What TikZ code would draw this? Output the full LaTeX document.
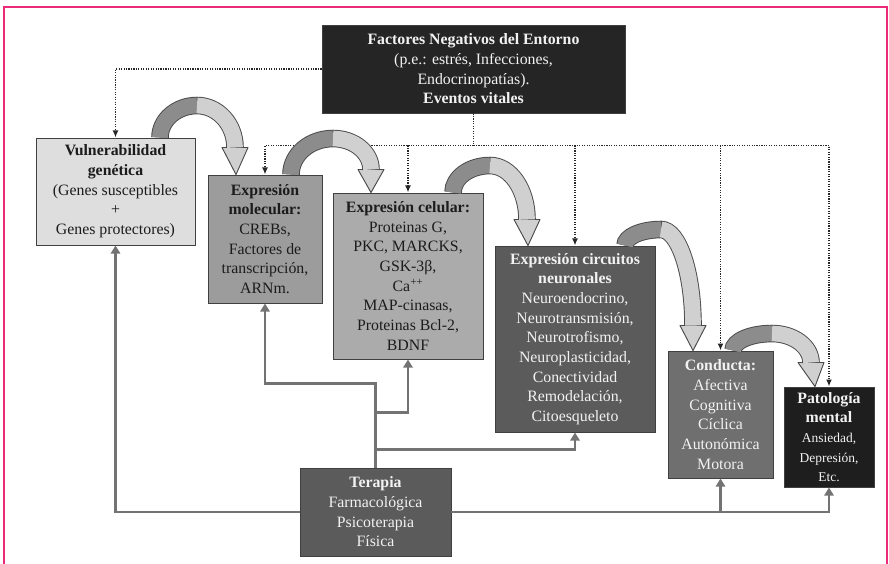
\documentclass[tikz,border=0pt]{standalone}
\usepackage{fontspec}
\setmainfont{Liberation Serif}
\usetikzlibrary{arrows.meta,calc}
\definecolor{framepink}{HTML}{EC2A7A}
\definecolor{negfill}{HTML}{252525}
\definecolor{vulfill}{HTML}{DEDEDE}
\definecolor{molfill}{HTML}{9C9C9C}
\definecolor{celfill}{HTML}{ABABAB}
\definecolor{cirfill}{HTML}{5B5B5B}
\definecolor{confill}{HTML}{6F6F6F}
\definecolor{patfill}{HTML}{1E1E1E}
\definecolor{arrowdark}{HTML}{8C8C8C}
\definecolor{arrowlight}{HTML}{D0D0D0}
\definecolor{arrowedge}{HTML}{4A4A4A}
\definecolor{inkdark}{HTML}{1C1C1C}
\definecolor{inklight}{HTML}{F2F2F2}

\begin{document}
\begin{tikzpicture}[x=0.03cm, y=-0.03cm,
  box/.style={draw=black!75, line width=0.8pt, align=center, inner sep=1pt,
    font=\fontsize{13.5}{16.8}\selectfont},
  dotline/.style={draw=black!85, line width=1.6pt, dash pattern=on 1pt off 1.1pt,
    -{Latex[length=6pt,width=5pt]}},
  gline/.style={draw=black!55, line width=2.4pt, -{Triangle[length=7pt,width=8pt]}}]
  \useasboundingbox (0,0) rectangle (889,564);
  \draw[framepink, line width=1.8pt] (4,564) -- (4,7) -- (887,7) -- (887,564);

  \node[box, fill=negfill, text=inklight, minimum width=9.09cm, minimum height=2.64cm] (neg) at (473.5,69)
    {\textbf{Factores Negativos del Entorno}\\(p.e.: estrés, Infecciones,\\Endocrinopatías).\\\textbf{Eventos vitales}};
  \node[box, fill=vulfill, text=inkdark, minimum width=4.77cm, minimum height=3.21cm] (vul) at (115.5,191.5)
    {\textbf{Vulnerabilidad}\\\textbf{genética}\\(Genes susceptibles\\+\\Genes protectores)};
  \node[box, fill=molfill, text=inkdark, minimum width=3.42cm, minimum height=3.84cm] (mol) at (265,239)
    {\textbf{Expresión}\\\textbf{molecular:}\\CREBs,\\Factores de\\transcripción,\\ARNm.};
  \node[box, fill=celfill, text=inkdark, minimum width=4.5cm, minimum height=4.98cm] (cel) at (408,276)
    {\textbf{Expresión celular:}\\Proteinas G,\\PKC, MARCKS,\\GSK-3β,\\Ca\textsuperscript{++}\\MAP-cinasas,\\Proteinas Bcl-2,\\BDNF};
  \node[box, fill=cirfill, text=inklight, minimum width=4.8cm, minimum height=5.58cm] (cir) at (575,339)
    {\textbf{Expresión circuitos}\\\textbf{neuronales}\\Neuroendocrino,\\Neurotransmisión,\\Neurotrofismo,\\Neuroplasticidad,\\Conectividad\\Remodelación,\\Citoesqueleto};
  \node[box, fill=confill, text=inklight, minimum width=3.15cm, minimum height=3.81cm] (con) at (720.5,414.5)
    {\textbf{Conducta:}\\Afectiva\\Cognitiva\\Cíclica\\Autonómica\\Motora};
  \node[box, fill=patfill, text=inklight, minimum width=2.7cm, minimum height=3cm] (pat) at (829,437)
    {\textbf{Patología}\\\textbf{mental}\\\fontsize{11.5}{14}\selectfont Ansiedad,\\\fontsize{11.5}{14}\selectfont Depresión,\\\fontsize{11.5}{14}\selectfont Etc.};
  \node[box, fill=cirfill, text=inklight, minimum width=4.53cm, minimum height=2.64cm] (ter) at (375.5,512)
    {\textbf{Terapia}\\Farmacológica\\Psicoterapia\\Física};

  \coordinate (bus) at ($(neg.south)+(0,32)$);
  \draw[dotline] (neg.west) -| (vul.north);
  \draw[dotline] (neg.south) -- (bus) -| (mol.north);
  \draw[dotline] (bus) -| (pat.north);
  \foreach \n in {cel,cir,con}
    \draw[dotline] (bus -| \n.north) -- (\n.north);

  \draw[gline] (ter.west) -| (vul.south);
  \draw[gline] (ter.east) -| (pat.south);
  \draw[gline] (ter.east -| con.south) -- (con.south);
  \draw[gline] (ter.north) -- ++(0,-84) -| (mol.south);
  \draw[gline] ($(ter.north)+(0,-55)$) -| (cel.south);
  \draw[gline] ($(ter.north)+(0,-18)$) -| (cir.south);

  \foreach \a/\sa/\px/\py/\b/\tb/\ex/\ey in {vul/44.5/37/-32/mol/-29/-1/-27,
      mol/26/42/-36/cel/-37/0/-23, cel/45/37/-27/cir/-47/-1/-26,
      cir/50/36/-16/con/-27.5/0/-25, con/12.5/39/-17/pat/-14/-4/-24}{
    \coordinate (s) at ($(\a.north)+(\sa,0)$);
    \coordinate (p) at ($(s)+(\px,\py)$);
    \coordinate (t) at ($(\b.north)+(\tb,0)$);
    \coordinate (e) at ($(t)+(\ex,\ey)$);
    \filldraw[fill=arrowlight, draw=arrowedge, line width=0.8pt, line join=round]
      ($(e)+(-13,0)$) -- ($(e)+(13,0)$) -- (t) -- cycle;
    \draw[arrowedge, line width=15pt] (s) .. controls ($(s)!0.552!(s |- p)$) and ($(p)!0.552!(p -| s)$) .. (p)
      .. controls ($(p)!0.552!(p -| e)$) and ($(e)!0.552!(e |- p)$) .. (e);
    \draw[arrowdark, line width=13.4pt] (s) .. controls ($(s)!0.552!(s |- p)$) and ($(p)!0.552!(p -| s)$) .. (p);
    \draw[arrowlight, line width=13.4pt] (p) .. controls ($(p)!0.552!(p -| e)$) and ($(e)!0.552!(e |- p)$) .. (e);
  }
\end{tikzpicture}
\end{document}
